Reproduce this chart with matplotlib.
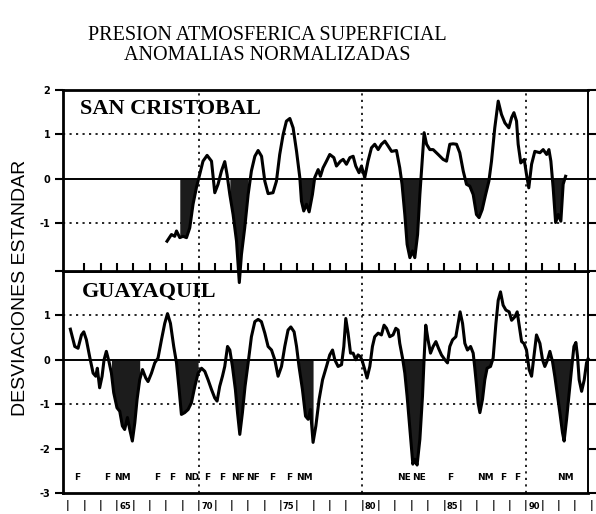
import matplotlib.pyplot as plt
import numpy as np

# San Cristobal - anomalias normalizadas
sc_years = [1968.06, 1968.33, 1968.53, 1968.64, 1968.84, 1969.04, 1969.25, 1969.45, 1969.65, 1969.86,
            1970.06, 1970.26, 1970.51, 1970.78, 1970.98, 1971.18, 1971.39, 1971.59, 1971.73, 1971.90,
            1972.10, 1972.31, 1972.48, 1972.61, 1972.81, 1973.02, 1973.22, 1973.43, 1973.63, 1973.84,
            1974.04, 1974.24, 1974.54, 1974.75, 1974.95, 1975.16, 1975.36, 1975.57, 1975.77, 1975.98,
            1976.18, 1976.28, 1976.42, 1976.59, 1976.75, 1976.95, 1977.09, 1977.30, 1977.44, 1977.60,
            1977.81, 1978.01, 1978.26, 1978.42, 1978.67, 1978.83, 1979.03, 1979.24, 1979.44, 1979.60,
            1979.80, 1979.95, 1980.15, 1980.35, 1980.56, 1980.76, 1980.97, 1981.17, 1981.38, 1981.58,
            1981.79, 1982.09, 1982.29, 1982.43, 1982.60, 1982.74, 1982.91, 1983.07, 1983.21, 1983.38,
            1983.52, 1983.66, 1983.78, 1983.93, 1984.13, 1984.33, 1984.64, 1984.94, 1985.15, 1985.35,
            1985.55, 1985.76, 1985.96, 1986.17, 1986.37, 1986.57, 1986.78, 1986.98, 1987.14, 1987.33,
            1987.54, 1987.74, 1987.90, 1988.10, 1988.31, 1988.51, 1988.72, 1988.96, 1989.13, 1989.27,
            1989.43, 1989.53, 1989.69, 1989.90, 1990.04, 1990.18, 1990.35, 1990.55, 1990.86, 1991.06,
            1991.27, 1991.41, 1991.53, 1991.67, 1991.82, 1991.98, 1992.14, 1992.28, 1992.43]
sc_vals = [-1.40, -1.25, -1.29, -1.17, -1.32, -1.29, -1.32, -1.10, -0.57, -0.19,
           0.10, 0.40, 0.53, 0.40, -0.31, -0.12, 0.18, 0.39, 0.10, -0.35,
           -0.80, -1.40, -2.33, -1.70, -1.10, -0.35, 0.18, 0.51, 0.64, 0.51,
           -0.05, -0.33, -0.31, -0.05, 0.55, 1.00, 1.30, 1.36, 1.15, 0.62,
           0.03, -0.50, -0.72, -0.57, -0.74, -0.35, 0.03, 0.21, 0.06, 0.25,
           0.40, 0.55, 0.48, 0.29, 0.40, 0.44, 0.33, 0.48, 0.51, 0.29,
           0.14, 0.29, 0.03, 0.40, 0.70, 0.78, 0.66, 0.78, 0.85, 0.74,
           0.62, 0.64, 0.25, -0.12, -0.80, -1.47, -1.77, -1.62, -1.77, -1.25,
           -0.35, 0.40, 1.04, 0.78, 0.66, 0.66, 0.55, 0.44, 0.40, 0.78,
           0.79, 0.78, 0.59, 0.18, -0.12, -0.16, -0.35, -0.80, -0.87, -0.69,
           -0.35, -0.05, 0.40, 1.15, 1.75, 1.45, 1.26, 1.15, 1.38, 1.49,
           1.30, 0.78, 0.36, 0.44, 0.10, -0.20, 0.33, 0.62, 0.59, 0.66,
           0.55, 0.66, 0.40, -0.20, -0.98, -0.80, -0.95, -0.12, 0.06]
sc_shade = [(1968.8, 1970.0), (1971.8, 1973.1), (1976.1, 1977.1),
            (1982.35, 1983.6), (1986.3, 1987.8), (1991.5, 1992.4)]

# Guayaquil
gy_years = [1962.15, 1962.42, 1962.62, 1962.83, 1962.97, 1963.13, 1963.33, 1963.54, 1963.70, 1963.80,
            1963.94, 1964.09, 1964.21, 1964.35, 1964.51, 1964.66, 1964.80, 1965.00, 1965.17, 1965.33,
            1965.47, 1965.64, 1965.78, 1965.94, 1966.09, 1966.23, 1966.39, 1966.56, 1966.76, 1966.90,
            1967.11, 1967.31, 1967.51, 1967.72, 1967.92, 1968.09, 1968.27, 1968.47, 1968.64, 1968.80,
            1968.94, 1969.14, 1969.35, 1969.55, 1969.76, 1969.96, 1970.17, 1970.37, 1970.57, 1970.78,
            1970.98, 1971.12, 1971.28, 1971.45, 1971.59, 1971.76, 1971.90, 1972.06, 1972.24, 1972.37,
            1972.51, 1972.67, 1972.83, 1973.02, 1973.22, 1973.43, 1973.63, 1973.83, 1974.04, 1974.24,
            1974.45, 1974.65, 1974.85, 1975.06, 1975.26, 1975.46, 1975.63, 1975.83, 1975.98, 1976.13,
            1976.34, 1976.53, 1976.69, 1976.83, 1976.99, 1977.16, 1977.36, 1977.57, 1977.81, 1978.01,
            1978.18, 1978.32, 1978.52, 1978.73, 1978.87, 1978.99, 1979.13, 1979.28, 1979.44, 1979.60,
            1979.74, 1979.89, 1980.01, 1980.15, 1980.29, 1980.46, 1980.62, 1980.76, 1980.97, 1981.17,
            1981.33, 1981.48, 1981.68, 1981.88, 1982.05, 1982.19, 1982.29, 1982.46, 1982.60, 1982.74,
            1982.86, 1983.01, 1983.09, 1983.21, 1983.35, 1983.52, 1983.68, 1983.78, 1983.88, 1984.02,
            1984.17, 1984.33, 1984.50, 1984.66, 1984.84, 1985.05, 1985.21, 1985.35, 1985.52, 1985.72,
            1985.86, 1985.98, 1986.13, 1986.27, 1986.43, 1986.62, 1986.78, 1986.88, 1986.99, 1987.08,
            1987.19, 1987.35, 1987.49, 1987.63, 1987.84, 1988.00, 1988.17, 1988.31, 1988.45, 1988.61,
            1988.78, 1988.98, 1989.13, 1989.33, 1989.47, 1989.59, 1989.74, 1989.88, 1990.04, 1990.20,
            1990.35, 1990.49, 1990.65, 1990.86, 1991.02, 1991.16, 1991.33, 1991.47, 1991.63, 1991.77,
            1991.91, 1992.08, 1992.24, 1992.34, 1992.49, 1992.65, 1992.80, 1992.94, 1993.06, 1993.16,
            1993.26, 1993.41, 1993.57, 1993.71, 1993.80]
gy_vals = [0.69, 0.30, 0.26, 0.56, 0.63, 0.45, 0.07, -0.30, -0.37, -0.19,
           -0.63, -0.37, 0.00, 0.19, -0.04, -0.30, -0.74, -1.08, -1.16, -1.49,
           -1.57, -1.30, -1.57, -1.83, -1.42, -0.89, -0.45, -0.22, -0.41, -0.49,
           -0.30, -0.07, 0.04, 0.45, 0.82, 1.04, 0.82, 0.30, -0.07, -0.67,
           -1.23, -1.19, -1.12, -0.97, -0.60, -0.30, -0.19, -0.26, -0.45, -0.67,
           -0.86, -0.93, -0.60, -0.37, -0.15, 0.30, 0.22, -0.15, -0.67, -1.19,
           -1.68, -1.19, -0.60, -0.07, 0.52, 0.86, 0.91, 0.86, 0.60, 0.30,
           0.22, 0.00, -0.37, -0.15, 0.30, 0.67, 0.74, 0.63, 0.30, -0.15,
           -0.67, -1.27, -1.34, -1.12, -1.86, -1.49, -0.89, -0.45, -0.15, 0.11,
           0.22, 0.00, -0.15, -0.11, 0.30, 0.93, 0.60, 0.15, 0.15, 0.00,
           0.11, 0.07, -0.04, -0.22, -0.41, -0.15, 0.30, 0.52, 0.60, 0.56,
           0.78, 0.71, 0.52, 0.56, 0.71, 0.67, 0.37, 0.04, -0.30, -0.82,
           -1.34, -2.00, -2.35, -2.24, -2.37, -1.79, -0.82, 0.04, 0.78, 0.45,
           0.15, 0.30, 0.41, 0.26, 0.11, 0.00, -0.07, 0.30, 0.45, 0.52,
           0.82, 1.08, 0.82, 0.37, 0.22, 0.30, 0.15, -0.19, -0.60, -0.97,
           -1.19, -0.89, -0.45, -0.19, -0.15, 0.04, 0.82, 1.34, 1.53, 1.23,
           1.12, 1.08, 0.89, 0.97, 1.08, 0.78, 0.41, 0.37, 0.22, -0.22,
           -0.37, 0.07, 0.56, 0.37, 0.00, -0.15, 0.00, 0.19, -0.04, -0.37,
           -0.74, -1.19, -1.64, -1.83, -1.34, -0.74, -0.19, 0.30, 0.39, 0.07,
           -0.45, -0.71, -0.45, -0.07, 0.02]
gy_shade = [(1964.55, 1966.5), (1968.45, 1970.05), (1971.9, 1973.1), (1976.05, 1977.0),
            (1982.4, 1983.8), (1986.75, 1988.0), (1991.6, 1992.9)]

# etiquetas de eventos
ev_years = [1962.54, 1964.43, 1965.35, 1967.43, 1968.35, 1969.57, 1970.49, 1971.41, 1972.39,
            1973.30, 1974.46, 1975.50, 1976.48, 1982.52, 1983.45, 1985.35, 1987.55, 1988.60,
            1989.45, 1992.45]
ev_labels = ['F', 'F', 'NM', 'F', 'F', 'ND', 'F', 'F', 'NF', 'NF', 'F', 'F', 'NM',
             'NE', 'NE', 'F', 'NM', 'F', 'F', 'NM']

year_ticks = list(range(1962, 1995))
decades = [1970, 1980, 1990]

fig = plt.figure(figsize=(5.96, 5.14), dpi=100)
ax1 = fig.add_axes([63/596, 1-271/514, 525/596, 181/514])
ax2 = fig.add_axes([63/596, 1-493/514, 525/596, 222/514])
ax1.set_zorder(3)

shade_col = '#1c1c1c'
dots = (0, (1.3, 2.6))

def draw_panel(ax, yrs, vals, shades, ylim, yt, ylabels):
    yrs = np.array(yrs)
    vals = np.array(vals)
    ax.set_xlim(1961.7, 1993.8)
    ax.set_ylim(*ylim)
    for a, b in shades:
        m = (yrs >= a) & (yrs <= b)
        ax.fill_between(yrs[m], np.minimum(vals[m], 0), 0, color=shade_col,
                        linewidth=0, clip_on=False, zorder=2)
    ax.plot(yrs, vals, color='black', lw=2.2, clip_on=False, zorder=3,
            solid_joinstyle='round')
    ax.axhline(0, color='black', lw=1.4, zorder=2)
    for lv in (1, -1):
        ax.axhline(lv, color='black', lw=1.2, linestyle=dots, zorder=1)
    for d in decades:
        ax.axvline(d, color='black', lw=1.2, linestyle=dots, zorder=1)
    ax.set_yticks(yt)
    ax.set_yticklabels(ylabels)
    ax.tick_params(axis='y', left=True, right=True, direction='out', length=6,
                   width=1.5, labelsize=7, pad=3)
    for lbl in ax.get_yticklabels():
        lbl.set_fontweight('bold')
    for s in ax.spines.values():
        s.set_linewidth(2)
    ax.spines['right'].set_linewidth(1.4)

draw_panel(ax1, sc_years, sc_vals, sc_shade, (-2.07, 2.0), [-1, 0, 1, 2],
           ['-1', '0', '1', '2'])
draw_panel(ax2, gy_years, gy_vals, gy_shade, (-3.0, 2.0), [-3, -2, -1, 0, 1, 2],
           ['-3', '-2', '-1', '0', '1', ''])

# marcas anuales dentro del panel superior
ax1.set_xticks(year_ticks[1:-1])
ax1.tick_params(axis='x', direction='in', length=6, width=1.5, labelbottom=False)
ax2.set_xticks([])

ax1.text(0.032, 0.95, 'SAN CRISTOBAL', transform=ax1.transAxes, ha='left', va='top',
         fontsize=16, fontweight='bold', family='Liberation Serif')
ax2.text(0.036, 0.95, 'GUAYAQUIL', transform=ax2.transAxes, ha='left', va='top',
         fontsize=16, fontweight='bold', family='Liberation Serif')

for x, lab in zip(ev_years, ev_labels):
    ax2.text(x, -2.66, lab, ha='center', va='center', fontsize=6.5, fontweight='bold',
             family='Liberation Sans Narrow')

# fila de anos bajo el eje
tr = ax2.get_xaxis_transform()
for yr in year_ticks:
    ax2.text(yr, -0.058, '|', transform=tr, ha='center', va='center',
             fontsize=7, fontweight='bold', clip_on=False)
    if yr % 5 == 0:
        ax2.text(yr + 0.5, -0.062, str(yr)[2:], transform=tr, ha='center',
                 va='center', fontsize=6, fontweight='bold', clip_on=False)

fig.text(0.448, 0.922, 'PRESION ATMOSFERICA SUPERFICIAL', ha='center', va='baseline',
         fontsize=14.5, family='Liberation Serif')
fig.text(0.448, 0.884, 'ANOMALIAS NORMALIZADAS', ha='center', va='baseline',
         fontsize=14.5, family='Liberation Serif')
fig.text(21/596, 1-288/514, 'DESVIACIONES ESTANDAR', rotation=90, ha='center',
         va='center', fontsize=14, family='Liberation Sans')

fig.savefig('out.png', dpi=100)
